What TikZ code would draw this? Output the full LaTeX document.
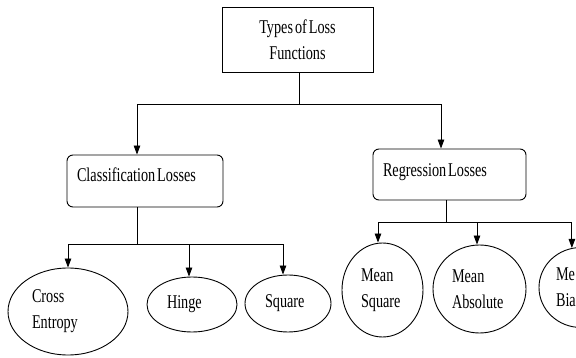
\documentclass[tikz,border=0pt]{standalone}
\usepackage{fontspec}
\setmainfont[FakeStretch=0.73,WordSpace=0.55]{Liberation Serif}
\usetikzlibrary{arrows.meta,shapes.geometric}
\begin{document}
\begin{tikzpicture}[x=1pt,y=-1pt,
  every node/.style={font=\fontsize{19.5}{26}\selectfont},
  line/.style={line width=0.9pt,draw=black},
  arr/.style={line width=0.9pt,-{Triangle[length=9pt,width=6.5pt]}},
  sqbox/.style={draw,line width=0.9pt,rectangle,inner sep=0pt,align=center},
  rbox/.style={draw,line width=0.9pt,rectangle,rounded corners=6pt,inner sep=0pt,align=left,text height=12pt,
    execute at begin node={\spaceskip=0pt\xspaceskip=0pt}},
  oval/.style={draw,line width=0.9pt,ellipse,inner sep=0pt,align=left}
]
\clip (0,0) rectangle (576,358);
\fill[white] (0,0) rectangle (576,358);
% nodes
\node[sqbox,minimum width=151pt,minimum height=65pt] (top) at (297.5,39.5) {Types of Loss\\Functions};
\node[rbox,minimum width=156pt,minimum height=52pt,text width=136pt,text depth=10pt] (cls) at (145,181) {Classification Losses};
\node[rbox,minimum width=153pt,minimum height=51pt,text width=133pt,text depth=7pt] (reg) at (449.5,174.5) {Regression Losses};
\node[oval,minimum width=120pt,minimum height=87pt,text width=72pt] (ce) at (68,311.5) {Cross\\Entropy};
\node[oval,minimum width=90pt,minimum height=55pt,text width=50pt] (hi) at (192,304.5) {Hinge};
\node[oval,minimum width=86pt,minimum height=57pt,text width=46pt] (sq) at (288,303.5) {Square};
\node[oval,minimum width=81pt,minimum height=94pt,text width=43pt] (ms) at (382.5,290) {Mean\\Square};
\node[oval,minimum width=93pt,minimum height=88pt,text width=55pt] (ma) at (479.5,289) {Mean\\Absolute};
\node[oval,minimum width=84pt,minimum height=80pt,text width=50pt] (mb) at (581,287.5) {Me\\Bia};
% junctions
\coordinate (j0) at (299,104);
\coordinate (j1) at (137,244);
\coordinate (j2) at (446,222);
% connectors
\draw[line] ([xshift=1.5pt]top.south) -- (j0);
\draw[arr] (j0) -| ([xshift=-8pt]cls.north);
\draw[arr] (j0) -| ([xshift=-8.5pt]reg.north);
\draw[line] ([xshift=-8pt]cls.south) -- (j1);
\draw[arr] (j1) -| (ce.north);
\draw[arr] (j1) -| ([xshift=-3pt]hi.north);
\draw[arr] (j1) -| ([xshift=-5pt]sq.north);
\draw[line] ([xshift=-3.5pt]reg.south) -- (j2);
\draw[arr] (j2) -| ([xshift=-4.5pt]ms.north);
\draw[arr] (j2) -| ([xshift=-2.5pt]ma.north);
\draw[arr] (j2) -| (mb.103);
\end{tikzpicture}
\end{document}
